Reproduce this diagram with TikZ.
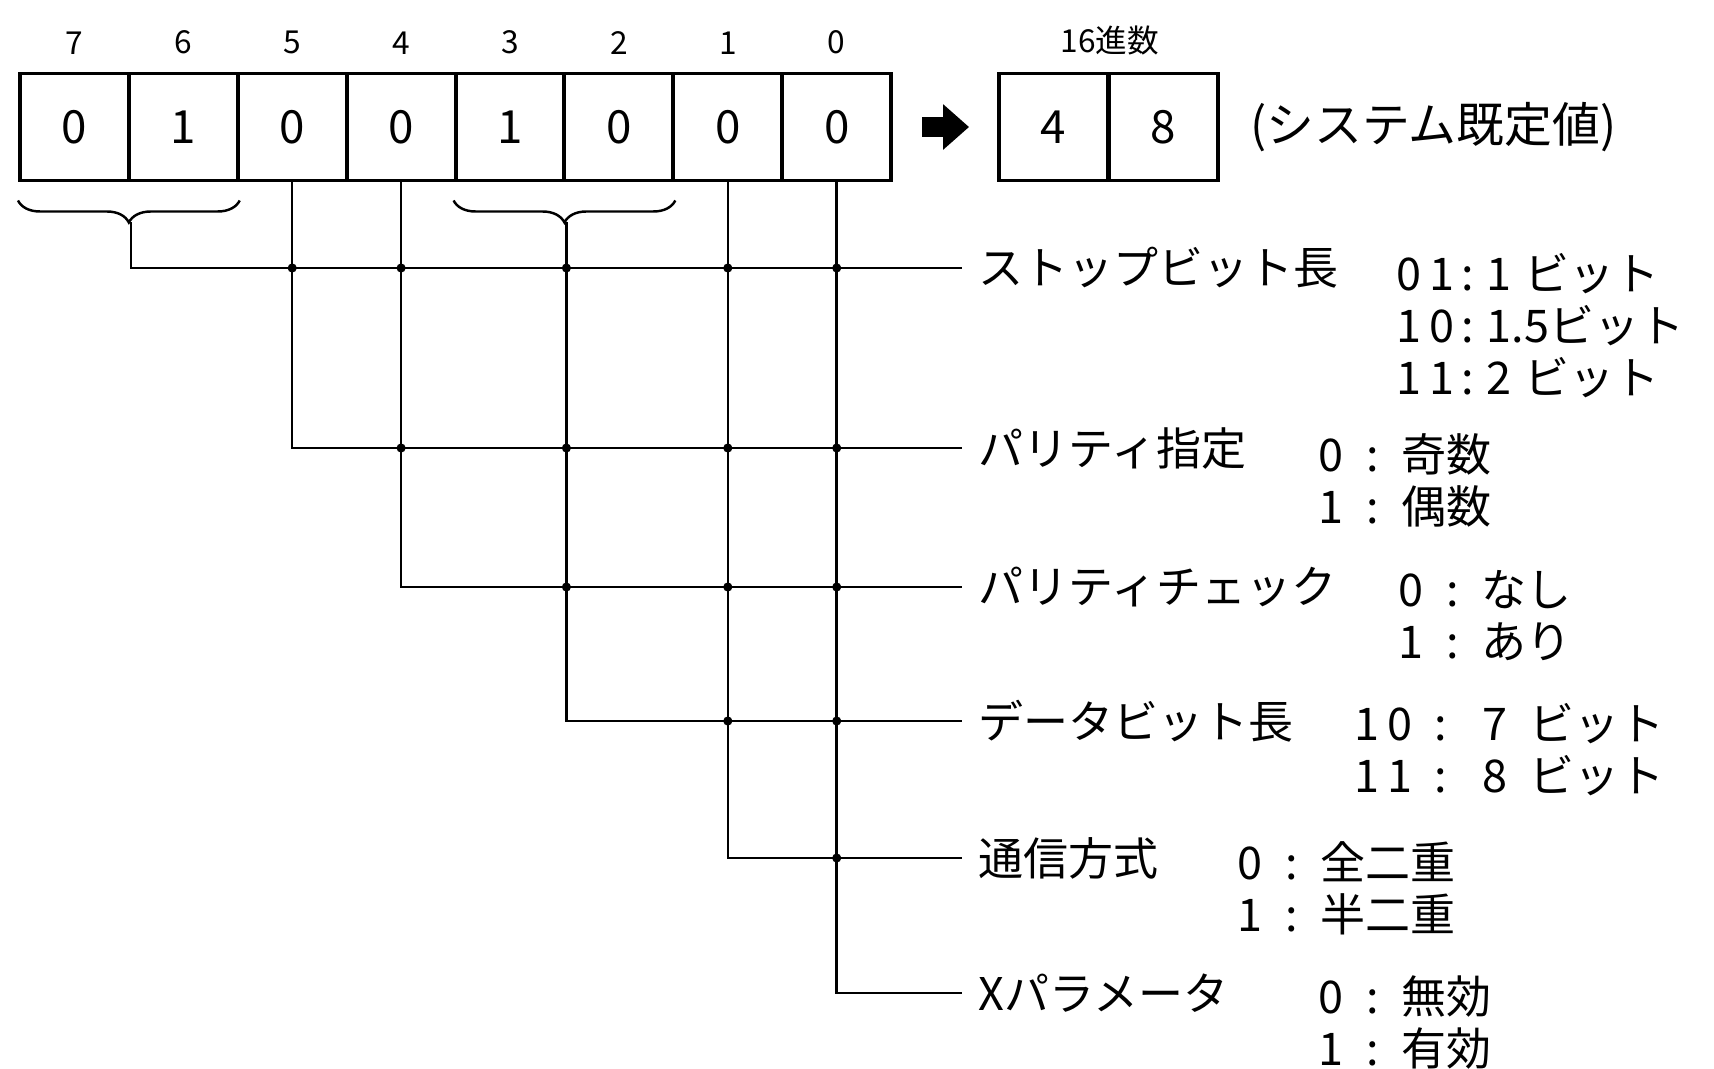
\documentclass[tikz,border=0pt]{standalone}
\usepackage{fontspec}
\setmainfont{Noto Sans CJK JP}
\usetikzlibrary{positioning,decorations.pathreplacing,arrows.meta}

\begin{document}
\begin{tikzpicture}[x=0.01cm, y=-0.01cm,
    celda/.style={draw, line width=1.1pt, minimum width=1.089cm, minimum height=1.07cm,
      inner sep=0pt, font=\fontsize{13}{15}\selectfont},
    num/.style={font=\fontsize{9}{11}\selectfont, inner sep=1pt},
    numbit/.style={num, yshift=0.13cm},
    linea/.style={line width=0.7pt},
    llave/.style={linea, decorate, decoration={brace, mirror, amplitude=2.2mm, raise=1.8mm}},
    campo/.style={anchor=west, inner xsep=0.16cm, inner ysep=0pt, font=\fontsize{12.8}{15}\selectfont},
    valor/.style={anchor=west, align=left, inner sep=0pt, font=\fontsize{12.8}{14.8}\selectfont}]
  \useasboundingbox (0,0) rectangle (1714,1069);
  % registro de 8 bits
  \node[celda, label={[numbit]above:7}] (b7) at (74.4,127)  {0};
  \node[celda, label={[numbit]above:6}] (b6) at (183.3,127) {1};
  \node[celda, label={[numbit]above:5}] (b5) at (292.2,127) {0};
  \node[celda, label={[numbit]above:4}] (b4) at (401.1,127) {0};
  \node[celda, label={[numbit]above:3}] (b3) at (510,127)   {1};
  \node[celda, label={[numbit]above:2}] (b2) at (618.9,127) {0};
  \node[celda, label={[numbit]above:1}] (b1) at (727.8,127) {0};
  \node[celda, label={[numbit]above:0}] (b0) at (836.7,127) {0};
  % valor hexadecimal
  \node[celda] (h1) at (1053.5,127) {4};
  \node[celda] (h0) at (1163.5,127) {8};
  \node[num, above=0.12cm of h1.north east] (hex) {16進数};
  \node[right=0.3cm of h0, inner sep=0pt, font=\fontsize{13.6}{15}\selectfont] (sysdef) {(システム既定値)};
  \draw[line width=0.2cm, -{Triangle[length=0.26cm, width=0.44cm]},
    shorten <=0.29cm, shorten >=0.28cm] (b0) -- (h1);
  % llaves
  \draw[llave] (b7.south west) -- (b6.south east);
  \draw[llave] (b3.south west) -- (b2.south east);
  \coordinate (p76) at ([yshift=-4mm]b7.south east);
  \coordinate (p32) at ([yshift=-4mm]b3.south east);
  % campos
  \node[campo] (lstop) at (962,268) {ストップビット長};
  \node[campo] (lpar)  at (962,448) {パリティ指定};
  \node[campo] (lchk)  at (962,587) {パリティチェック};
  \node[campo] (ldat)  at (962,721) {データビット長};
  \node[campo] (lcom)  at (962,858) {通信方式};
  \node[campo] (lxpa)  at (962,993) {Xパラメータ};
  \node[valor] (vstop) at (1396,326) {0\,1\,:\;1\;ビット\\1\,0\,:\;1.5ビット\\1\,1\,:\;2\;ビット};
  \node[valor] (vpar)  at (1318,480) {0\enspace:\enspace 奇数\\1\enspace:\enspace 偶数};
  \node[valor] (vchk)  at (1398,616) {0\enspace:\enspace なし\\1\enspace:\enspace あり};
  \node[valor] (vdat)  at (1354,750) {1\,0\enspace:\enspace\;7\enspace ビット\\1\,1\enspace:\enspace\;8\enspace ビット};
  \node[valor] (vcom)  at (1237,888) {0\enspace:\enspace 全二重\\1\enspace:\enspace 半二重};
  \node[valor] (vxpa)  at (1318,1022) {0\enspace:\enspace 無効\\1\enspace:\enspace 有効};
  % conexiones
  \draw[linea] (p76) |- (lstop.west);
  \draw[linea] (b5.south) |- (lpar.west);
  \draw[linea] (b4.south) |- (lchk.west);
  \draw[linea] (p32) |- (ldat.west);
  \draw[linea] (b1.south) |- (lcom.west);
  \draw[linea] (b0.south) |- (lxpa.west);
  \foreach \h/\vs in {lstop/{b5,b4,p32,b1,b0}, lpar/{b4,p32,b1,b0},
      lchk/{p32,b1,b0}, ldat/{b1,b0}, lcom/{b0}}
    \foreach \v in \vs
      \fill (\v |- \h.west) circle (1.3pt);
\end{tikzpicture}
\end{document}
